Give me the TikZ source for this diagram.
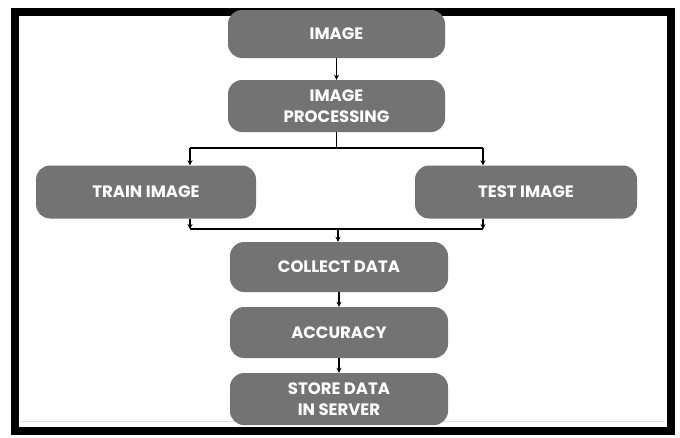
\documentclass[tikz,border=0pt]{standalone}
\usepackage{fontspec}
\setmainfont{Poppins}
\usetikzlibrary{arrows.meta}
\definecolor{boxgray}{HTML}{737373}
\tikzset{
  box/.style={fill=boxgray, rounded corners=14pt, text=white, font=\fontsize{16.5}{21}\selectfont\bfseries,
    align=center, minimum height=50pt, inner sep=0pt},
  conn/.style={line width=1.3pt, black},
  arr/.style={conn, -{Stealth[length=5pt,width=5pt]}}
}
\begin{document}
\begin{tikzpicture}[x=1pt,y=-1pt]
\useasboundingbox (0,0) rectangle (680,437);
\fill[white] (0,0) rectangle (680,437);
% frame
\draw[line width=8pt, black] (15,11.5) rectangle (671,431);
\draw[black!12, line width=1pt] (20,421) -- (665,421);
% nodes
\node[box, minimum width=217pt, minimum height=48pt] (img) at (336.5,34) {IMAGE};
\node[box, minimum width=217pt, minimum height=52pt] (proc) at (336.5,106) {IMAGE\\PROCESSING};
\node[box, minimum width=220pt, minimum height=53pt] (train) at (146,192) {TRAIN IMAGE};
\node[box, minimum width=222pt, minimum height=53pt] (test) at (526,192) {TEST IMAGE};
\node[box, minimum width=218pt, minimum height=50pt] (coll) at (339,267) {COLLECT DATA};
\node[box, minimum width=218pt, minimum height=51pt] (acc) at (339,332.5) {ACCURACY};
\node[box, minimum width=218pt, minimum height=52pt] (store) at (339,399) {STORE DATA\\IN SERVER};
% connectors
\draw[arr] (img.south) -- (proc.north);
\coordinate (sp) at (336.5,148);
\coordinate (tl) at (190,148);
\coordinate (tr) at (483,148);
\draw[conn] (proc.south) -- (sp);
\draw[conn] (tl) -- (tr);
\draw[arr] (tl) -- (tl |- train.north);
\draw[arr] (tr) -- (tr |- test.north);
\coordinate (bl) at (190,229);
\coordinate (br) at (483,229);
\coordinate (bm) at (338,229);
\draw[arr] (bl |- train.south) -- (bl);
\draw[arr] (br |- test.south) -- (br);
\draw[conn] (bl) -- (br);
\draw[arr] (bm) -- (bm |- coll.north);
\draw[arr] (coll.south) -- (acc.north);
\draw[arr] (acc.south) -- (store.north);
\end{tikzpicture}
\end{document}
